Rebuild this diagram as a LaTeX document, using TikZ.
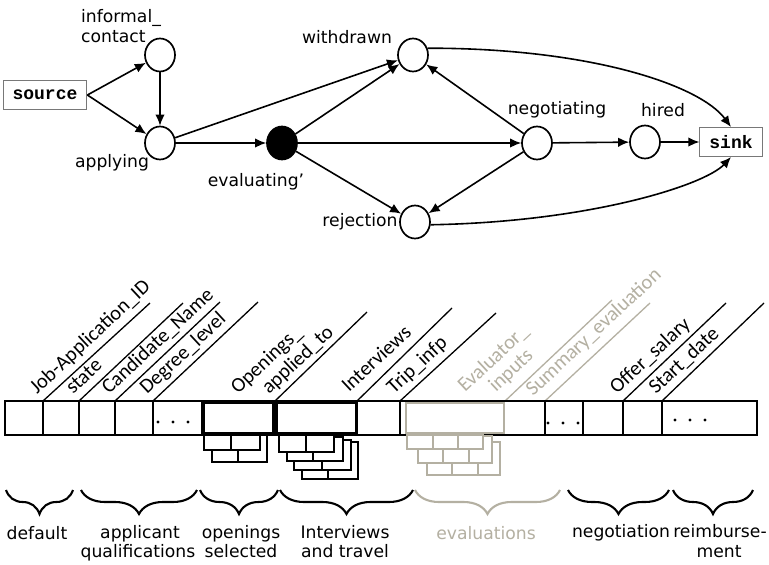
\documentclass[tikz,border=0pt]{standalone}
\usepackage{fontspec}
\setmainfont{DejaVu Sans}
\newfontfamily\slantfont{Carlito}
\newfontfamily\codefont{Liberation Mono}
\usetikzlibrary{arrows.meta,shapes.geometric,decorations.pathreplacing}
\definecolor{evalgray}{RGB}{180,176,162}
\definecolor{boxgray}{RGB}{120,120,120}
\begin{document}
\begin{tikzpicture}[x=1pt,y=-1pt,
  stnode/.style={ellipse, draw, line width=1.7pt, minimum width=30pt, minimum height=33pt, inner sep=0pt, fill=white},
  endbox/.style={draw=boxgray, line width=1pt, fill=white, inner xsep=9.5pt, minimum height=29pt,
    font=\codefont\bfseries\fontsize{18}{20}\selectfont},
  flow/.style={-{Latex[length=11pt,width=9.5pt]}, line width=1.6pt},
  lbl/.style={font=\fontsize{17.2}{20}\selectfont, inner sep=0pt},
  fieldlbl/.style={font=\slantfont\fontsize{20.5}{24}\selectfont, rotate=43, anchor=base west, inner sep=0pt},
  fieldline/.style={line width=1.3pt},
  rowline/.style={line width=1.4pt},
  groupbox/.style={line width=2.3pt},
  stackcard/.style={line width=1.3pt, fill=white},
  bracegroup/.style={decorate, decoration={brace, mirror, amplitude=24pt}, line width=2.1pt},
  grouplbl/.style={font=\fontsize{17.2}{20}\selectfont, anchor=base, inner sep=0pt},
]
\fill[white] (0,0) rectangle (769,565);
\useasboundingbox (0,0) rectangle (769,565);

% ---------- state graph ----------
\node[endbox] (source) at (45,95) {source};
\node[stnode] (ic) at (160,55) {};
\node[stnode] (ap) at (160,143) {};
\node[stnode, fill=black] (ev) at (282,143) {};
\node[stnode] (wd) at (413,55) {};
\node[stnode] (ng) at (537,143) {};
\node[stnode] (rj) at (415,222) {};
\node[stnode] (hd) at (645,142) {};
\node[endbox] (sink) at (731,142) {sink};

\node[lbl, align=left, anchor=west] (lic) at (81,26) {informal\_\\contact};
\node[lbl] (lap) at (112,163) {applying};
\node[lbl] (lev) at (256,182) {evaluating’};
\node[lbl] (lwd) at (347,37) {withdrawn};
\node[lbl] (lng) at (557,110) {negotiating};
\node[lbl] (lrj) at (360,222) {rejection};
\node[lbl] (lhd) at (663,110) {hired};

\draw[flow] (source.east) -- (ic);
\draw[flow] (source.east) -- (ap);
\draw[flow] (ic) -- (ap);
\draw[flow] (ap) -- (wd);
\draw[flow] (ap) -- (ev);
\draw[flow] (ev) -- (wd);
\draw[flow] (ev) -- (ng);
\draw[flow] (ev) -- (rj);
\draw[flow] (ng) -- (wd);
\draw[flow] (ng) -- (rj);
\draw[flow] (ng) -- (hd);
\draw[flow] (hd) -- (sink);
\draw[flow] (wd.25) .. controls (590,48) and (700,85) .. (sink.north);
\draw[flow] (rj.-10) .. controls (590,222) and (705,185) .. (sink.south);

% ---------- record layout ----------
% slanted field names with their leader lines
\foreach \xa/\xb/\yb in {43/150/303, 79/183/303, 115/220/302, 153/258/302,
                         275/367/312, 357/452/308, 400/496/313, 623/726/303, 662/764/303}
  \draw[fieldline] (\xa,401) -- (\xb,\yb);
\foreach \xa/\xb/\yb in {505/612/300, 545/650/303}
  \draw[fieldline, evalgray] (\xa,401) -- (\xb,\yb);

\node[fieldlbl] (fjob) at (37,395) {Job-Application\_ID};
\node[fieldlbl] (fstate) at (73,395) {state};
\node[fieldlbl] (fcand) at (109,395) {Candidate\_Name};
\node[fieldlbl] (fdeg) at (147,395) {Degree\_level};
\node[fieldlbl] (fapp) at (269,395) {applied\_to};
\node[fieldlbl] (fopen) at ([xshift=-31pt]fapp.base west) {Openings\_};
\node[fieldlbl] (fint) at (349,393) {Interviews};
\node[fieldlbl] (ftrip) at (394,395) {Trip\_infp};
\node[fieldlbl, text=evalgray] (finp) at (496,393) {inputs};
\node[fieldlbl, text=evalgray] (feval) at ([xshift=-31pt]finp.base west) {Evaluator\_};
\node[fieldlbl, text=evalgray] (fsum) at (533,397) {Summary\_evaluation};
\node[fieldlbl] (foffer) at (617,395) {Offer\_salary};
\node[fieldlbl] (fstart) at (656,395) {Start\_date};

% the record row
\draw[rowline] (5,401) rectangle (757,435);
\foreach \x in {43,79,115,153,202,275,357,400,545,583,623,662}
  \draw[rowline] (\x,401) -- (\x,435);
\foreach \x in {158,173,188} \fill (\x,422) circle (1.6);
\foreach \x in {548,563,578} \fill (\x,423) circle (1.6);
\foreach \x in {675,690,705} \fill (\x,420) circle (1.6);

% nested groups: stacked tables, drawn back to front
\draw[groupbox] (203.5,403) rectangle (273,433);
\draw[groupbox] (277,403) rectangle (356.5,433);
\draw[groupbox, draw=evalgray, line width=1.7pt] (406,403) rectangle (504,433);

\foreach \xa/\ya/\xb/\yb/\xd in {212/435/267/462/238, 204/435/260/450/231}
  {\draw[stackcard] (\xa,\ya) rectangle (\xb,\yb);
   \draw[stackcard] (\xd,\ya) -- (\xd,\yb);}
\foreach \xa/\ya/\xb/\yb/\xd in {302/442/358/479/328, 294/440/351/470/322,
                                 287/437/343/461/313, 279/435/334/452/306}
  {\draw[stackcard] (\xa,\ya) rectangle (\xb,\yb);
   \draw[stackcard] (\xd,\ya) -- (\xd,\yb);}
\foreach \xa/\ya/\xb/\yb/\xd/\xe in {427/442/500/475/452/478, 418/436/492/463/443/469,
                                     407/435/483/449/433/458}
  {\draw[stackcard, draw=evalgray] (\xa,\ya) rectangle (\xb,\yb);
   \draw[stackcard, draw=evalgray] (\xd,\ya) -- (\xd,\yb) (\xe,\ya) -- (\xe,\yb);}

% groupings of fields
\draw[bracegroup] (6,490) -- (73,490);
\draw[bracegroup] (81,490) -- (197,490);
\draw[bracegroup] (200,490) -- (278,490);
\draw[bracegroup] (280,490) -- (413,490);
\draw[bracegroup, evalgray] (415,490) -- (560,490);
\draw[bracegroup] (568,490) -- (669,490);
\draw[bracegroup] (673,490) -- (753,490);

\node[grouplbl] (gdef) at (37,539) {default};
\node[grouplbl] (gapp1) at (140,538) {applicant};
\node[grouplbl] (gapp2) at (138,557) {qualifications};
\node[grouplbl] (gop1) at (241,538) {openings};
\node[grouplbl] (gop2) at (241,557) {selected};
\node[grouplbl] (gint1) at (345,538) {Interviews};
\node[grouplbl] (gint2) at (345,557) {and travel};
\node[grouplbl, text=evalgray] (geval) at (486,539) {evaluations};
\node[grouplbl] (gneg) at (621,537) {negotiation};
\node[grouplbl] (grei1) at (720,537) {reimburse-};
\node[grouplbl] (grei2) at (719,557) {ment};
\end{tikzpicture}
\end{document}
